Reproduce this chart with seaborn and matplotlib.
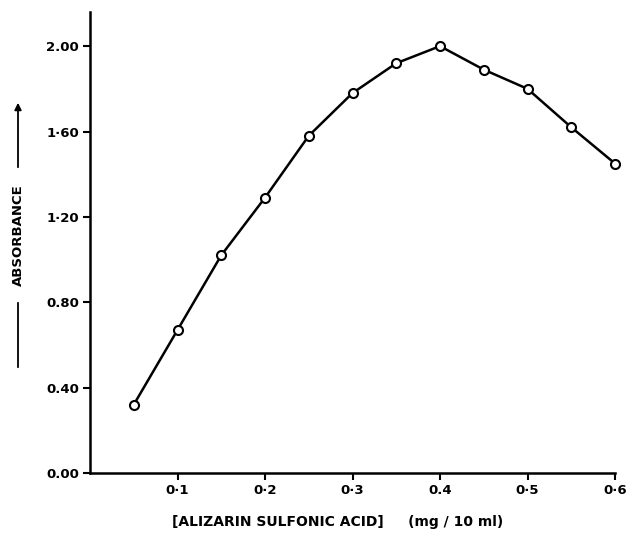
import matplotlib
matplotlib.use("Agg")
import matplotlib.pyplot as plt
import seaborn as sns
import pandas as pd

# data
concentration = [0.05, 0.10, 0.15, 0.20, 0.25, 0.30, 0.35, 0.40, 0.45, 0.50, 0.55, 0.60]
absorbance = [0.32, 0.67, 1.02, 1.29, 1.58, 1.78, 1.92, 2.00, 1.89, 1.80, 1.62, 1.45]
x_ticks = [0.1, 0.2, 0.3, 0.4, 0.5, 0.6]
x_tick_labels = ["0·1", "0·2", "0·3", "0.4", "0·5", "0·6"]
y_ticks = [0.0, 0.4, 0.8, 1.2, 1.6, 2.0]
y_tick_labels = ["0.00", "0.40", "0.80", "1·20", "1·60", "2.00"]

sns.set_style("ticks")
plt.rcParams['font.family'] = ['DejaVu Sans']
plt.rcParams['text.color'] = 'black'
plt.rcParams['xtick.color'] = 'black'
plt.rcParams['ytick.color'] = 'black'

df = pd.DataFrame({"c": concentration, "a": absorbance})

fig = plt.figure(figsize=(6.29, 5.46), dpi=100)
ax = fig.add_axes([90/629, 73/546, (615-90)/629, (473-12)/546])

sns.lineplot(data=df, x="c", y="a", ax=ax, color="black", linewidth=1.8,
             marker="o", markersize=6.5, markerfacecolor="white",
             markeredgecolor="black", markeredgewidth=1.5, clip_on=False)

ax.set_xlim(0, 0.6)
ax.set_ylim(0, 2.16)
ax.set_xticks(x_ticks)
ax.set_xticklabels(x_tick_labels, fontsize=9.5, fontweight="bold", color="black")
ax.set_yticks(y_ticks)
ax.set_yticklabels(y_tick_labels, fontsize=9.5, fontweight="bold", color="black")
ax.tick_params(direction="out", length=5, width=1.5, color="black", pad=3)
for s in ["top", "right"]:
    ax.spines[s].set_visible(False)
for s in ["left", "bottom"]:
    ax.spines[s].set_linewidth(1.8)
    ax.spines[s].set_color("black")
ax.set_xlabel("")
ax.set_ylabel("")

fig.text(338/629, 1 - 522/546, "[ALIZARIN SULFONIC ACID]     (mg / 10 ml)",
         ha="center", va="center", fontsize=10, fontweight="bold", color="black")

# y label with arrow lines
fig.text(18/629, 1 - 235/546, "ABSORBANCE", rotation=90, ha="center", va="center",
         fontsize=9.5, fontweight="bold", color="black")
ax.annotate("", xy=(18/629, 1 - 370/546), xytext=(18/629, 1 - 300/546),
            xycoords="figure fraction", textcoords="figure fraction",
            arrowprops=dict(arrowstyle="-", color="black", lw=1.3))
ax.annotate("", xy=(18/629, 1 - 100/546), xytext=(18/629, 1 - 170/546),
            xycoords="figure fraction", textcoords="figure fraction",
            arrowprops=dict(arrowstyle="-|>", color="black", lw=1.3, mutation_scale=10))

fig.savefig("out.png", dpi=100)
